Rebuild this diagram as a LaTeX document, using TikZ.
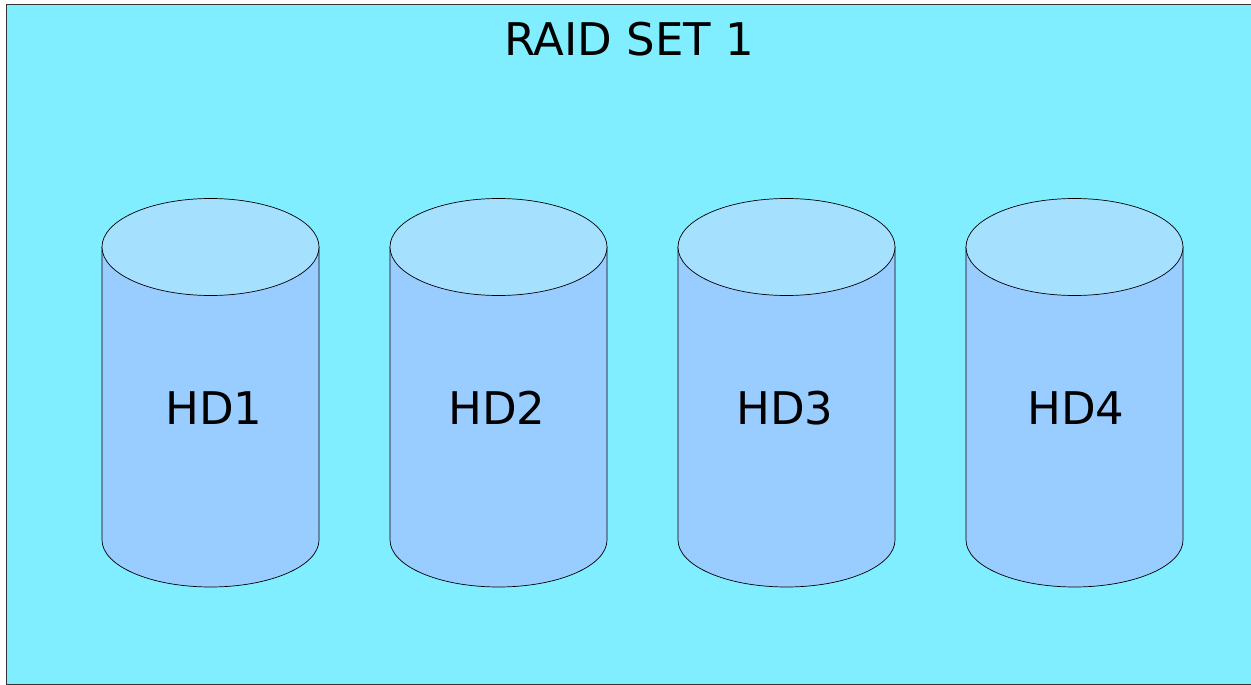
\documentclass[tikz,border=0pt]{standalone}
\usepackage{fontspec}
\setmainfont{DejaVu Sans}
\definecolor{bgcyan}{RGB}{128,238,255}
\definecolor{bodyblue}{RGB}{153,204,255}
\definecolor{topblue}{RGB}{166,224,255}
\begin{document}
\begin{tikzpicture}[x=1pt,y=-1pt,
  frame/.style={draw=black!80,line width=0.8pt,fill=bgcyan},
  diskbody/.style={fill=bodyblue,draw=black,line width=0.7pt},
  disktop/.style={fill=topblue,draw=black,line width=0.7pt},
  lbl/.style={font=\fontsize{45}{45}\selectfont,anchor=base,inner sep=0pt}]
\useasboundingbox (0,0) rectangle (1251,685);
\fill[white] (0,0) rectangle (1251,685);
\draw[frame] (6,4) rectangle (1253,684);
\node[lbl] (title) at (629,56) {RAID SET 1};
\foreach \cx/\name/\tx in {210.5/HD1/214,498.5/HD2/497,786.5/HD3/785,1074.5/HD4/1076}{
  \path[diskbody] (\cx-108.5,247) -- (\cx-108.5,540)
     arc[start angle=180,end angle=360,x radius=108.5,y radius=-47] -- (\cx+108.5,247) -- cycle;
  \path[disktop] (\cx,247) ellipse[x radius=108.5,y radius=48.5];
  \node[lbl] (\name) at (\tx,424) {\name};
}
\end{tikzpicture}
\end{document}
